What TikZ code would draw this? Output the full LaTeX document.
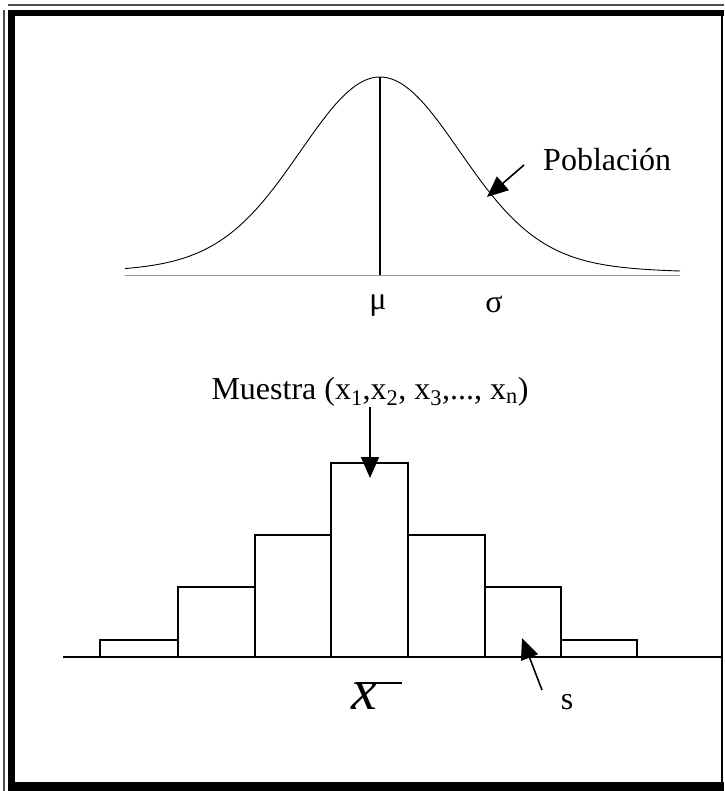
\documentclass[tikz,border=0pt]{standalone}
\usepackage{fontspec}
\setmainfont{Liberation Serif}
\usetikzlibrary{arrows.meta}

\begin{document}
\begin{tikzpicture}[x=1pt,y=-1pt,
  bar/.style={draw=black,line width=1.6pt},
  pointer/.style={-{Triangle[length=21pt,width=18pt]},line width=1.6pt},
  lbl/.style={inner sep=0pt,font=\fontsize{32}{34}\selectfont}]

  \useasboundingbox (0,0) rectangle (724,791);

  % frame
  \fill[black!70] (8,4) rectangle (724,6.5);
  \fill[black!70] (3,10) rectangle (5,791);
  \fill[black] (8,10) rectangle (724,16.5);
  \fill[black] (8,10) rectangle (15,791);
  \fill[black] (15,782) rectangle (724,791);
  \fill[black] (720.5,16) rectangle (723,783);

  % population
  \coordinate (peak) at (380,77);
  \coordinate (foot) at (380,275);

  \draw[black!40, line width=0.8pt] (125,275) -- (680,275);
  \draw[line width=0.9pt, domain=-255:300, samples=160, smooth]
    plot ({380+\x},{273-196*(0.75*exp(-(\x/78)^2/2)+0.25/(cosh(\x/130)^2))});
  \draw[line width=1.2pt] (peak) -- (foot);

  \node[lbl] (mu) at (378,306) {μ};
  \node[lbl] (sigma) at (494,304) {σ};

  \node[lbl, anchor=west] (pob) at (543,160) {Población};
  \coordinate (pobtail) at (524,165);
  \coordinate (pobtip) at (487,197);
  \draw[pointer] (pobtail) -- (pobtip);

  % sample
  \node[lbl] (muestra) at (370,392)
    {Muestra (x\textsubscript{1},x\textsubscript{2}, x\textsubscript{3},..., x\textsubscript{n})};

  \foreach \l/\r/\t in {100/178/640, 178/255/587, 255/331/535, 331/408/463,
                        408/485/535, 485/561/587, 561/637/640}
    \draw[bar] (\l,657) rectangle (\r,\t);
  \draw[line width=1.8pt] (63,657) -- (722,657);

  \coordinate (ctop) at (370,478);
  \draw[pointer] (muestra.south) -- (ctop);

  \node[inner sep=0pt, font=\fontsize{58}{58}\selectfont\itshape] (xbar) at (364,696) {x};
  \coordinate (barl) at (356,683);
  \coordinate (barr) at (402,683);
  \draw[line width=1.2pt] (barl) -- (barr);

  \node[lbl] (s) at (567,702) {s};
  \coordinate (stail) at (542,690);
  \coordinate (stip) at (522,638);
  \draw[pointer] (stail) -- (stip);

\end{tikzpicture}
\end{document}
